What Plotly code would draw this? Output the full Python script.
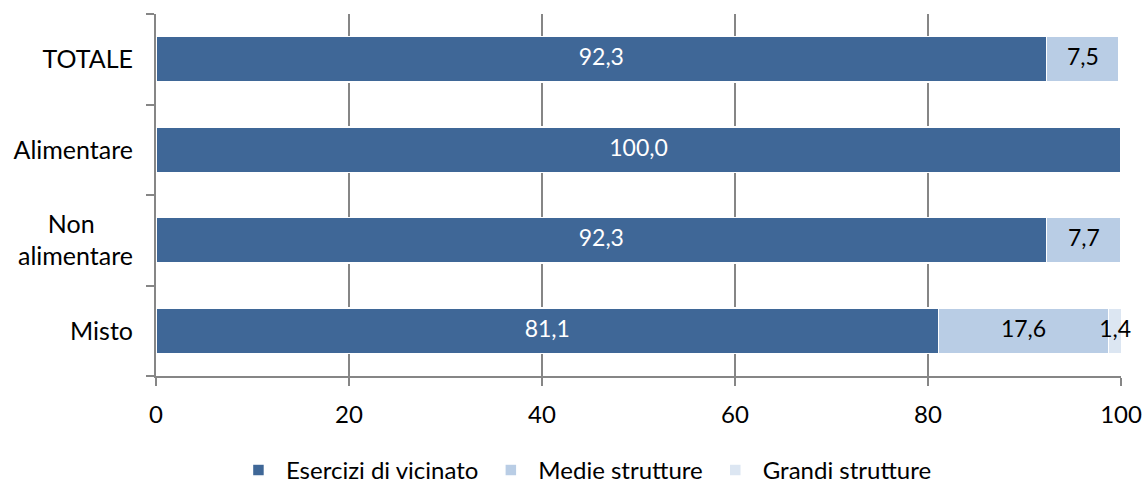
import plotly.graph_objects as go

categories = ["TOTALE", "Alimentare", "Non alimentare", "Misto"]
category_labels = ["TOTALE", "Alimentare", "Non" + "\u00a0" * 6 + "<br>alimentare", "Misto"]
vicinato = [92.3, 100.0, 92.3, 81.1]
medie = [7.5, 0.0, 7.7, 17.6]
grandi = [0.2, 0.0, 0.0, 1.4]
series_names = ["Esercizi di vicinato", "Medie strutture", "Grandi strutture"]
x_ticks = [0, 20, 40, 60, 80, 100]

colors = ["#3F6797", "#B9CDE5", "#DCE6F2"]
text_colors = ["white", "black", "black"]
FONT = "Lato"

def fmt(v):
    return ("%.1f" % v).replace(".", ",") if v >= 1 else ""

fig = go.Figure()
all_series = [vicinato, medie, grandi]
for name, vals, c in zip(series_names, all_series, colors):
    fig.add_trace(go.Bar(
        y=categories, x=vals, name=name, orientation="h",
        marker=dict(color=c, line=dict(color="white", width=1.5)),
        hoverinfo="x+name",
    ))

# data labels, centred on each segment
for i, (vals, tc) in enumerate(zip(all_series, text_colors)):
    xs, ys, ts = [], [], []
    for j, cat in enumerate(categories):
        start = sum(all_series[k][j] for k in range(i))
        xs.append(start + vals[j] / 2)
        ys.append(cat)
        ts.append(fmt(vals[j]))
    fig.add_trace(go.Scatter(
        x=xs, y=ys, text=ts, mode="text", showlegend=False, hoverinfo="skip",
        textfont=dict(color=tc, size=23, family=FONT), cliponaxis=False,
    ))

fig.update_layout(
    barmode="stack", bargap=0.5,
    width=1145, height=493,
    margin=dict(l=156, r=24, t=14, b=117),
    paper_bgcolor="white", plot_bgcolor="white",
    font=dict(family=FONT, size=24, color="black"),
    legend=dict(orientation="h", xref="container", x=0.51, xanchor="center",
                yref="container", y=0.0, yanchor="bottom",
                font=dict(size=24), traceorder="normal", itemwidth=45),
    showlegend=True,
)
fig.update_xaxes(range=[0, 100], tickvals=x_ticks, showgrid=True, gridcolor="#868686", gridwidth=1.5,
                 showline=True, linecolor="#868686", linewidth=2, ticks="outside", ticklen=8,
                 tickcolor="#868686", tickwidth=2, zeroline=False, tickfont=dict(size=24),
                 ticklabelstandoff=8, automargin=False)
fig.update_yaxes(autorange="reversed", showline=True, linecolor="#868686", linewidth=2,
                 tickvals=categories, ticktext=category_labels,
                 ticks="outside", tickson="boundaries", ticklen=8, tickcolor="#868686", tickwidth=2,
                 tickfont=dict(size=25), ticklabelstandoff=16, automargin=False)

fig.write_html("out.html", config={"displayModeBar": False},
               post_script="document.body.style.margin='0';")
